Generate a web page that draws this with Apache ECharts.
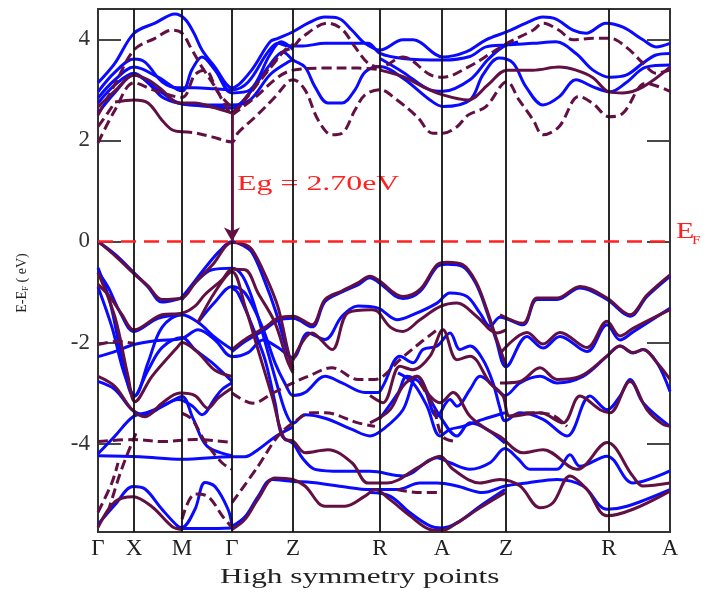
<!DOCTYPE html>
<html><head><meta charset="utf-8">
<script src="https://cdn.jsdelivr.net/npm/echarts@6/dist/echarts.min.js"></script>
<style>html,body{margin:0;padding:0;background:#fff}#c{width:706px;height:599px}</style>
</head><body><div id="c"></div>
<script>
// k-path positions of high-symmetry points and their labels
const kPoints = [0, 36, 84, 134, 195, 282, 344, 408, 511, 572];
const kLabels = ['Γ', 'X', 'M', 'Γ', 'Z', 'R', 'A', 'Z', 'R', 'A'];
const yTicks = [-4, -2, 0, 2, 4];
const gapTop = 2.55, gapValue = '2.70';

// conduction bands, blue (solid)
const blueCond = [
 [[0,3.14],[17,3.53],[36,4.12],[57,4.32],[77,4.5],[87,4.4],[96,4.12],[104,3.79],[117,3.45],[134,3.04],[152,3.35],[172,3.95],[180,4.02],[195,4.15],[210,4.32],[227,4.44],[240,4.42],[254,4.18],[267,3.92],[282,3.79],[305,3.99],[315,3.99],[345,3.65],[368,3.75],[388,3.99],[409,4.15],[428,4.32],[445,4.44],[458,4.4],[475,4.18],[488,4.12],[508,4.32],[525,4.24],[545,3.99],[558,3.85],[572,3.92]],
 [[0,2.96],[17,3.35],[36,3.61],[47,3.55],[64,3.16],[80,3.04],[97,3.04],[117,3.02],[134,3.0],[150,3.15],[170,3.75],[180,3.92],[190,3.87],[205,3.87],[227,3.92],[270,3.92],[282,3.72],[305,3.62],[345,3.59],[372,3.66],[388,3.85],[409,3.89],[435,3.92],[458,3.95],[478,3.72],[495,3.39],[512,3.25],[528,3.29],[545,3.53],[558,3.69],[572,3.72]],
 [[0,2.74],[17,3.1],[36,3.33],[52,3.1],[64,2.86],[80,2.74],[104,2.68],[134,2.64],[150,2.9],[172,3.5],[185,3.75],[195,3.59],[207,3.45],[217,3.06],[230,2.74],[244,2.74],[257,3.0],[267,3.35],[282,3.46],[305,3.23],[332,2.8],[345,2.67],[372,2.8],[385,3.3],[401,3.63],[415,3.53],[428,3.06],[445,2.70],[461,2.86],[478,3.2],[495,3.06],[512,2.96],[528,3.14],[548,3.45],[572,3.49]],
 [[0,2.84],[17,3.2],[36,3.45],[60,3.25],[84,2.98],[94,3.4],[104,3.65],[117,3.39],[134,2.94],[152,3.0],[172,3.7],[183,3.95],[195,3.8]],
 [[0,2.54],[17,2.95],[36,3.3],[60,3.0],[84,2.72],[104,2.7],[134,2.7],[152,2.8],[172,3.3],[190,3.55],[195,3.6]],
 [[282,3.62],[305,3.35],[332,3.0],[345,2.97],[372,3.2],[390,3.6],[405,3.85],[420,3.95]]
];
// conduction bands, maroon dashed
const maroonCondDashed = [
 [[0,2.5],[18,3.15],[36,3.79],[57,4.02],[74,4.18],[84,4.12],[94,3.79],[104,3.45],[117,3.06],[130,2.6],[134,2.55],[150,2.9],[170,3.4],[185,3.75],[195,3.85],[204,4.04],[230,4.32],[244,4.2],[257,3.85],[270,3.53],[282,3.45],[305,3.65],[332,3.3],[345,3.25],[370,3.45],[395,3.75],[409,3.92],[435,4.18],[445,4.32],[461,4.18],[475,3.99],[495,4.02],[512,4.02],[528,3.85],[545,3.53],[558,3.33],[572,3.39]],
 [[0,1.95],[17,2.6],[36,3.14],[55,3.0],[84,2.85],[97,3.3],[107,3.39],[120,2.95],[134,2.65]],
 [[0,2.27],[10,2.55],[17,2.76]],
 [[84,2.17],[97,2.15],[114,2.07],[134,1.97],[140,2.15],[157,2.46],[177,2.86],[190,3.16],[195,3.2],[207,3.0],[220,2.41],[234,2.11],[244,2.14],[257,2.6],[267,2.9],[282,3.0],[299,2.8],[319,2.47],[335,2.14],[345,2.14],[359,2.27],[370,2.5],[388,2.67],[409,3.16],[421,2.8],[435,2.41],[445,2.11],[461,2.27],[481,2.87],[495,2.73],[511,2.47],[525,2.54],[548,3.13],[572,2.97]],
 [[134,2.5],[157,2.85],[180,3.25],[195,3.39],[227,3.43],[260,3.43],[282,3.4]],
 [[134,2.54],[147,2.8],[160,3.13],[175,3.5],[187,3.79],[195,3.9]]
];
// conduction bands, maroon solid
const maroonCondSolid = [
 [[0,2.66],[18,3.0],[36,3.29],[50,3.2],[64,3.0],[77,2.76],[84,2.74],[97,2.74],[114,2.66],[134,2.54]],
 [[17,2.76],[36,2.8],[50,2.74],[64,2.4],[74,2.21],[84,2.17]],
 [[282,3.39],[305,3.26],[325,3.06],[345,2.9],[370,2.8],[390,3.1],[409,3.39],[435,3.39],[461,3.45],[478,3.39],[495,3.24],[511,2.96],[525,2.94],[545,3.06],[572,3.45]]
];
// valence bands, blue (solid)
const blueVal = [
 [[0,0],[18,-0.27],[36,-0.62],[50,-0.9],[64,-1.2],[80,-1.14],[84,-1.1],[97,-0.78],[110,-0.45],[122,-0.18],[134,0],[145,-0.08],[154,-0.22],[166,-0.75],[178,-1.4],[188,-2.1],[195,-2.5]],
 [[0,-0.9],[14,-1.7],[26,-2.6],[37,-3.05],[50,-2.4],[64,-1.7],[84,-1.45],[100,-1.6],[117,-1.9],[134,-2.14]],
 [[0,-0.52],[12,-1.2],[24,-2.3],[36,-3.07],[50,-2.55],[64,-2.1],[84,-1.9],[97,-2.14],[114,-2.4],[134,-2.77]],
 [[0,-2.28],[18,-2.17],[36,-2.04],[60,-1.96],[84,-1.92],[100,-1.75],[117,-1.95],[134,-2.28],[150,-2.2],[165,-1.95],[180,-2.1],[195,-2.3],[210,-1.81],[227,-1.94],[244,-1.48],[260,-1.28],[280,-1.32],[299,-1.55],[315,-1.45],[339,-1.22],[352,-1.02],[369,-1.09],[382,-1.42],[392,-1.68],[402,-1.5],[425,-1.65],[439,-1.15],[459,-1.15],[482,-0.92],[509,-1.15],[532,-1.48],[549,-1.09],[572,-0.69]],
 [[0,-0.6],[10,-0.9],[22,-1.4],[36,-1.78],[60,-1.52],[84,-1.45]],
 [[84,-1.15],[97,-0.82],[114,-0.56],[134,-0.53],[145,-0.7],[157,-1.3],[170,-2.2],[180,-2.9],[188,-3.4],[195,-3.6],[207,-3.43],[227,-3.5],[254,-3.72],[272,-3.85],[285,-3.72],[305,-3.33],[319,-2.67],[325,-2.8],[339,-3.46],[352,-3.13],[359,-3.26],[372,-2.93],[382,-2.67],[399,-2.93],[407,-3.05],[422,-2.8],[442,-2.67],[459,-2.8],[485,-2.67],[509,-2.27],[522,-2.07],[535,-2.21],[545,-2.14],[559,-2.4],[572,-2.97]],
 [[100,-1.6],[117,-1.2],[134,-0.89],[147,-1.02],[164,-1.68],[177,-2.4],[188,-2.85],[195,-3.05],[207,-2.99],[227,-2.67],[244,-2.8],[267,-2.99],[280,-2.99],[285,-2.86],[302,-2.27],[315,-2.4],[325,-2.14],[339,-2.07],[352,-1.81],[362,-2.14],[372,-2.07],[385,-2.34],[395,-2.8],[402,-3.3],[407,-3.55],[422,-3.39],[445,-3.52],[469,-3.85],[492,-3.06],[509,-3.33],[522,-3.06],[532,-2.73],[545,-3.19],[572,-3.66]],
 [[134,-0.92],[140,-1.02],[157,-1.81],[167,-2.34],[177,-3.19],[184,-3.85],[195,-4.0],[205,-4.3],[217,-4.51],[244,-4.55],[272,-4.55],[305,-4.64],[339,-4.28],[352,-4.38],[372,-4.51],[392,-4.38],[407,-4.1],[420,-4.3],[432,-4.51],[459,-4.51],[472,-4.22],[482,-4.45],[509,-4.25],[535,-4.78],[572,-4.54]],
 [[134,-5.64],[147,-5.45],[160,-5.05],[174,-4.71],[195,-4.75],[214,-4.77],[244,-4.85],[272,-4.91],[299,-4.91],[322,-4.78],[339,-4.78],[359,-4.84],[385,-4.97],[407,-4.84],[429,-4.78],[459,-4.71],[485,-4.84],[509,-5.3],[529,-5.24],[572,-4.91]],
 [[272,-4.97],[292,-5.04],[312,-5.37],[332,-5.63],[344,-5.67],[359,-5.57],[382,-5.24],[407,-4.91]],
 [[0,-5.6],[17,-5.21],[35,-4.85],[47,-4.9],[64,-5.3],[80,-5.64],[84,-5.66],[97,-5.3],[107,-4.77],[117,-4.85],[130,-5.3],[134,-5.62]],
 [[84,-5.68],[110,-5.68],[134,-5.67]],
 [[0,-4.24],[42,-4.26],[84,-4.31],[134,-4.26],[147,-4.26],[160,-4.12],[177,-3.87],[195,-3.67]],
 [[0,-4.2],[17,-3.85],[35,-3.47],[50,-3.38],[70,-3.2],[84,-3.07],[95,-3.5],[109,-4.05],[134,-4.24]],
 [[0,-2.77],[17,-2.93],[34,-3.33],[47,-3.43],[64,-3.27],[80,-3.13],[94,-3.25],[104,-3.43],[117,-3.1],[124,-2.93],[134,-2.8]],
 [[282,-3.5],[300,-3.0],[309,-2.67],[322,-2.8],[342,-3.46],[359,-3.85],[372,-3.59],[389,-3.72],[407,-3.99]],
 [[300,-2.6],[315,-2.8],[329,-3.26],[342,-3.85],[352,-3.72],[365,-3.66],[385,-3.52],[407,-3.39]],
 [[134,-2.18],[147,-1.98],[167,-1.74],[180,-1.56],[195,-1.52],[214,-1.69],[227,-1.19],[244,-1.0],[260,-0.86],[272,-0.72],[280,-0.8],[305,-1.13],[322,-0.99],[339,-0.5],[349,-0.45],[365,-0.5],[378,-0.84],[388,-1.34],[398,-1.94],[408,-2.48],[429,-1.88],[445,-2.11],[462,-1.88],[489,-2.18],[509,-1.65],[522,-1.95],[535,-1.79],[572,-1.32]]
];
// valence bands, maroon solid
const maroonValSolid = [
 [[0,0],[18,-0.3],[36,-0.64],[50,-0.88],[64,-1.15],[84,-1.12],[97,-0.82],[115,-0.45],[134,-0.02],[145,-0.05],[154,-0.16],[168,-0.7],[180,-1.3],[189,-2.08],[195,-2.55]],
 [[0,-0.62],[17,-1.5],[30,-2.67],[37,-3.17],[54,-2.67],[80,-2.08],[84,-2.0],[100,-2.2],[117,-2.55],[134,-2.67]],
 [[0,-0.85],[12,-1.1],[24,-1.45],[36,-1.75],[64,-1.45],[84,-1.42],[97,-1.28],[107,-1.05],[124,-0.76],[134,-0.55],[147,-0.56],[160,-1.02],[177,-1.61],[189,-2.34],[195,-2.6]],
 [[100,-1.6],[117,-1.0],[134,-0.6],[147,-1.28],[160,-2.14],[174,-3.06],[187,-3.92],[195,-3.95],[207,-4.18],[230,-4.12],[254,-4.38],[270,-4.78],[289,-4.78],[322,-4.45],[342,-4.25],[355,-4.51],[382,-4.78],[402,-4.71],[422,-4.84],[442,-5.27],[455,-5.17],[472,-4.64],[489,-4.91],[509,-5.43],[535,-5.3],[572,-4.94]],
 [[134,-5.7],[147,-5.5],[160,-5.1],[177,-4.68],[195,-4.71],[207,-4.84],[227,-5.24],[247,-5.24],[267,-5.04],[277,-4.91],[292,-5.11],[312,-5.43],[332,-5.7],[344,-5.72],[359,-5.57],[382,-5.27],[407,-4.97]],
 [[195,-2.35],[214,-1.81],[234,-2.14],[250,-1.41],[274,-1.35],[280,-1.39],[292,-1.69],[305,-1.78],[322,-1.55],[342,-1.29],[359,-1.22],[379,-1.49],[399,-1.81],[408,-1.75]],
 [[272,-3.05],[285,-3.19],[302,-2.47],[315,-2.54],[332,-2.27],[345,-1.75],[359,-2.34],[372,-2.27],[392,-2.8],[405,-3.06],[412,-3.46],[442,-3.39],[465,-3.59],[482,-3.06],[502,-3.33],[512,-3.39],[532,-2.77],[549,-3.33],[565,-3.62],[572,-3.65]],
 [[272,-3.59],[292,-3.33],[305,-2.86],[319,-2.67],[332,-3.06],[342,-3.19],[355,-2.99],[372,-3.46],[389,-3.72],[402,-3.86],[425,-4.18],[445,-4.12],[479,-4.51],[509,-3.98],[535,-4.65],[545,-4.84],[572,-4.78]],
 [[402,-2.8],[422,-2.77],[442,-2.5],[459,-2.73],[482,-2.67],[509,-2.27],[522,-2.07],[535,-2.2],[545,-2.14],[559,-2.4],[572,-2.73]],
 [[402,-2.22],[429,-1.8],[445,-2.03],[462,-1.8],[489,-2.1],[509,-1.58],[522,-1.87],[535,-1.72],[572,-1.35]],
 [[402,-1.45],[425,-1.62],[439,-1.12],[459,-1.12],[482,-0.89],[509,-1.12],[532,-1.45],[549,-1.06],[572,-0.66]],
 [[134,-2.14],[147,-1.94],[167,-1.7],[180,-1.52],[195,-1.48],[214,-1.65],[227,-1.15],[244,-0.98],[260,-0.82],[272,-0.69],[280,-0.76],[305,-1.09],[322,-0.95],[339,-0.46],[349,-0.41],[365,-0.46],[378,-0.8],[388,-1.3],[398,-1.9],[408,-2.45]],
 [[0,-2.67],[17,-2.87],[34,-3.33],[47,-3.47],[64,-3.2],[82,-3.0],[97,-3.05],[110,-3.3],[120,-3.1],[134,-2.9]],
 [[0,-5.66],[17,-5.15],[35,-5.05],[54,-5.25],[74,-5.64],[84,-5.7]]
];
// valence bands, maroon dashed
const maroonValDashed = [
 [[0,-2.04],[20,-1.98],[36,-2.02]],
 [[0,-3.96],[36,-3.92],[64,-3.96],[97,-3.92],[134,-3.98]],
 [[10,-5.36],[22,-4.6],[32,-4.08],[38,-3.8]],
 [[84,-3.4],[94,-3.52],[107,-3.96],[124,-4.38],[134,-4.51]],
 [[84,-5.5],[97,-5.0],[110,-5.05],[125,-5.45],[134,-5.66]],
 [[134,-3.0],[155,-3.2],[175,-3.0],[195,-2.8],[210,-2.67],[234,-2.5],[260,-2.73],[277,-2.73],[285,-2.67],[302,-2.34],[322,-2.01],[339,-1.75]],
 [[134,-5.17],[160,-4.45],[180,-3.85],[195,-3.59],[214,-3.39],[227,-3.39],[260,-3.59],[277,-3.66]],
 [[322,-2.8],[335,-3.26],[344,-3.85],[355,-3.95]],
 [[299,-4.91],[322,-4.97],[339,-4.97]],
 [[412,-3.46],[429,-3.39],[452,-3.42],[469,-3.66]],
 [[0,-5.36],[14,-4.77],[20,-4.38]]
];

const BLUE = '#0a0aff', MAROON = '#621044', RED = '#ff2020';
const SERIF = '"Liberation Serif","DejaVu Serif",serif';

function lineSeries(data, color, dashed, z) {
  return { type: 'line', data: data, showSymbol: false, smooth: 0.35, silent: true, z: z,
    lineStyle: { color: color, width: 3, type: dashed ? [10, 5] : 'solid' } };
}
const series = [];
series.push({ type: 'line', data: [], z: 1, silent: true,
  markLine: { silent: true, symbol: 'none', animation: false, label: { show: false },
    lineStyle: { color: '#111', width: 1.8, type: 'solid' },
    data: kPoints.slice(1, -1).map(k => ({ xAxis: k })) } });
blueCond.forEach(b => series.push(lineSeries(b, BLUE, false, 3)));
blueVal.forEach(b => series.push(lineSeries(b, BLUE, false, 3)));
maroonCondSolid.forEach(b => series.push(lineSeries(b, MAROON, false, 4)));
maroonCondDashed.forEach(b => series.push(lineSeries(b, MAROON, true, 4)));
maroonValSolid.forEach(b => series.push(lineSeries(b, MAROON, false, 4)));
maroonValDashed.forEach(b => series.push(lineSeries(b, MAROON, true, 4)));
series.push({ type: 'line', data: [], z: 6, silent: true,
  markLine: { silent: true, symbol: 'none', animation: false, label: { show: false },
    lineStyle: { color: RED, width: 2.5, type: [15, 8] },
    data: [{ yAxis: 0 }] } });
series.push({ type: 'line', data: [], z: 7, silent: true,
  markLine: { silent: true, symbol: ['none', 'arrow'], symbolSize: [12, 14], animation: false, label: { show: false },
    lineStyle: { color: MAROON, width: 2.8, type: 'solid' },
    data: [[{ coord: [kPoints[3], gapTop] }, { coord: [kPoints[3], 0] }]] } });

const chart = echarts.init(document.getElementById('c'), null, { renderer: 'canvas' });
chart.setOption({
  animation: false,
  backgroundColor: '#fff',
  grid: { left: 98, right: 36, top: 9, bottom: 67, show: true, borderColor: '#333', borderWidth: 2 },
  xAxis: { type: 'value', min: kPoints[0], max: kPoints[kPoints.length - 1],
    axisLine: { show: false }, axisTick: { show: false }, splitLine: { show: false },
    axisLabel: { customValues: kPoints, formatter: v => kLabels[kPoints.indexOf(v)] || '',
      fontFamily: SERIF, fontSize: 23, color: '#222', margin: 5 } },
  yAxis: [
    { type: 'value', min: -5.75, max: 4.6, position: 'left',
      axisLine: { show: false }, splitLine: { show: false },
      axisTick: { inside: true, length: 23, customValues: yTicks, lineStyle: { color: '#333', width: 1.8 } },
      axisLabel: { customValues: yTicks, fontFamily: SERIF, fontSize: 23, color: '#333', margin: 8 } },
    { type: 'value', min: -5.75, max: 4.6, position: 'right',
      axisLine: { show: false }, splitLine: { show: false },
      axisTick: { inside: true, length: 23, customValues: yTicks, lineStyle: { color: '#333', width: 1.8 } },
      axisLabel: { show: false } }
  ],
  graphic: [
    { type: 'text', x: 237, y: 173, scaleX: 1.45, silent: true,
      style: { text: 'Eg = ' + gapValue + 'eV', fill: RED, font: '22px ' + SERIF } },
    { type: 'text', x: 676, y: 220, scaleX: 1.3, silent: true,
      style: { text: 'E', fill: RED, font: '23px ' + SERIF } },
    { type: 'text', x: 692, y: 234, scaleX: 1.2, silent: true,
      style: { text: 'F', fill: RED, font: '13px ' + SERIF } },
    { type: 'text', x: 220, y: 566, scaleX: 1.42, silent: true,
      style: { text: 'High symmetry points', fill: '#222', font: '22px ' + SERIF } },
    { type: 'text', x: 22, y: 283, rotation: Math.PI / 2, silent: true,
      style: { text: '{a|E-E}{b|F}{a| ( eV)}', align: 'center', verticalAlign: 'middle',
        rich: { a: { fontFamily: SERIF, fontSize: 14, fill: '#222' },
                b: { fontFamily: SERIF, fontSize: 9, fill: '#222', padding: [7, 0, 0, 0] } } } }
  ],
  series: series
});
</script></body></html>
